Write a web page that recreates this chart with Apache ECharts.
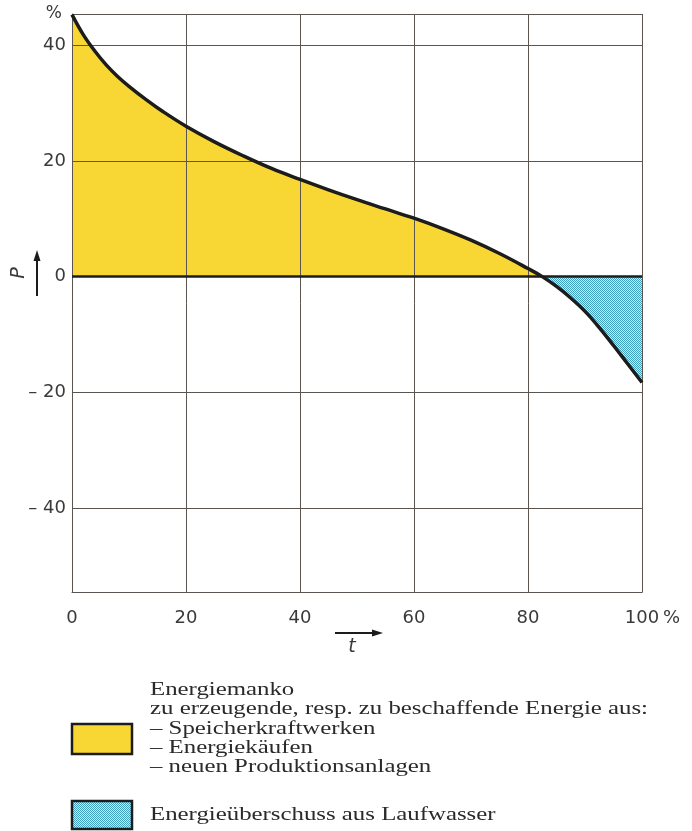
<!DOCTYPE html>
<html>
<head>
<meta charset="utf-8">
<script src="https://cdn.jsdelivr.net/npm/echarts@6/dist/echarts.min.js"></script>
<style>html,body{margin:0;padding:0;background:#fff}#c{width:692px;height:831px}</style>
</head>
<body>
<div id="c"></div>
<script>
// ---- data ----
const tValues = [0, 2, 4, 6, 8, 10, 13, 16, 20, 25, 30, 35, 40, 45, 50, 55, 60, 65, 70, 75, 80, 82.5, 85, 87.5, 90, 92.5, 95, 97.5, 100];
const pValues = [45.3, 41.8, 39.0, 36.6, 34.6, 32.9, 30.6, 28.5, 26.0, 23.3, 20.9, 18.7, 16.8, 15.0, 13.3, 11.7, 10.1, 8.3, 6.3, 4.0, 1.4, 0, -1.7, -3.7, -6.0, -8.8, -11.9, -15.1, -18.3];
const xTickLabels = [0, 20, 40, 60, 80, 100];
const yTickLabels = [-40, -20, 0, 20, 40];
const yMin = -54.6, yMax = 45.4;
const legendDeficitLines = [
  'Energiemanko',
  'zu erzeugende, resp. zu beschaffende Energie aus:',
  '– Speicherkraftwerken',
  '– Energiekäufen',
  '– neuen Produktionsanlagen'
];
const legendSurplus = 'Energieüberschuss aus Laufwasser';

// ---- build ----
const curve = tValues.map((t, i) => [t, pValues[i]]);
const positivePart = curve.filter(p => p[1] >= 0);
const negativePart = curve.filter(p => p[1] <= 0);

function hatch() {
  const c = document.createElement('canvas');
  c.width = 2; c.height = 2;
  const g = c.getContext('2d');
  g.fillStyle = '#cfe9f2'; g.fillRect(0, 0, 2, 2);
  g.fillStyle = '#3f9fbf'; g.fillRect(0, 0, 1, 1); g.fillRect(1, 1, 1, 1);
  return c;
}
const hatchImg = hatch();
const YELLOW = '#F8D735';
const INK = '#1c1c1c';
const GRIDC = '#5a5550';
const LABELC = '#3a3a3a';

// legend text horizontal stretch
const legendFont = "19px 'Liberation Serif'";
const mctx = document.createElement('canvas').getContext('2d');
mctx.font = legendFont;
const measured = mctx.measureText(legendDeficitLines[1]).width;
const stretch = 498 / measured;

const legendYs = [690, 709, 729, 748, 767];
const legendTexts = legendDeficitLines.map((s, i) => ({
  type: 'text', x: 150, y: legendYs[i], scaleX: stretch,
  style: { text: s, x: 0, y: 0, font: legendFont, fill: '#2a2a2a', verticalAlign: 'middle', align: 'left' }
}));
legendTexts.push({
  type: 'text', x: 150, y: 815, scaleX: stretch,
  style: { text: legendSurplus, x: 0, y: 0, font: legendFont, fill: '#2a2a2a', verticalAlign: 'middle', align: 'left' }
});

const chart = echarts.init(document.getElementById('c'), null, { renderer: 'canvas' });
chart.setOption({
  animation: false,
  backgroundColor: '#fff',
  grid: { left: 72, right: 50, top: 14, bottom: 238.5, containLabel: false },
  xAxis: {
    type: 'value', min: 0, max: 100, z: 3,
    axisLine: { show: true, onZero: false, lineStyle: { color: GRIDC, width: 1 } },
    axisTick: { show: false, customValues: xTickLabels },
    splitLine: { show: true, lineStyle: { color: GRIDC, width: 1 } },
    axisLabel: {
      customValues: xTickLabels, margin: 17,
      fontFamily: 'DejaVu Sans', fontSize: 18, color: LABELC
    }
  },
  yAxis: {
    type: 'value', min: yMin, max: yMax, z: 3,
    name: '%', nameLocation: 'end', nameGap: 0,
    nameTextStyle: { fontFamily: 'DejaVu Sans', fontSize: 17, color: LABELC, align: 'right', verticalAlign: 'middle', padding: [0, 10, 0, 0] },
    axisLine: { show: true, lineStyle: { color: GRIDC, width: 1 } },
    axisTick: { show: false, customValues: [yMin, -40, -20, 0, 20, 40, yMax] },
    splitLine: { show: true, lineStyle: { color: GRIDC, width: 1 } },
    axisLabel: {
      customValues: yTickLabels, margin: 6,
      fontFamily: 'DejaVu Sans', fontSize: 18, color: LABELC,
      formatter: v => v < 0 ? '– ' + Math.abs(v) : String(v)
    }
  },
  series: [
    {
      type: 'line', data: positivePart, z: 1, symbol: 'none', smooth: 0.4,
      lineStyle: { width: 0, opacity: 0 }, areaStyle: { color: YELLOW, opacity: 1 }, silent: true
    },
    {
      type: 'line', data: negativePart, z: 1, symbol: 'none', smooth: 0.4,
      lineStyle: { width: 0, opacity: 0 }, areaStyle: { color: { image: hatchImg, repeat: 'repeat' }, opacity: 1 }, silent: true
    },
    {
      type: 'line', data: curve, z: 5, symbol: 'none', smooth: 0.4,
      lineStyle: { width: 3.5, color: INK }, silent: true,
      markLine: {
        silent: true, symbol: ['none', 'none'], label: { show: false },
        lineStyle: { color: INK, width: 2.5, type: 'solid' },
        data: [{ yAxis: 0 }]
      }
    }
  ],
  graphic: [
    { type: 'text', x: 663, y: 618, style: { text: '%', font: "18px 'DejaVu Sans'", fill: LABELC, verticalAlign: 'middle', align: 'left' } },
    // P arrow
    { type: 'line', shape: { x1: 37, y1: 296, x2: 37, y2: 258 }, style: { stroke: INK, lineWidth: 2 } },
    { type: 'polygon', shape: { points: [[37, 250], [33.5, 261], [40.5, 261]] }, style: { fill: INK } },
    { type: 'text', x: 19, y: 273, rotation: Math.PI / 2, style: { text: 'P', font: "italic 19px 'DejaVu Sans'", fill: LABELC, align: 'center', verticalAlign: 'middle' } },
    // t arrow
    { type: 'line', shape: { x1: 335, y1: 633, x2: 375, y2: 633 }, style: { stroke: INK, lineWidth: 2 } },
    { type: 'polygon', shape: { points: [[383, 633], [372, 629.5], [372, 636.5]] }, style: { fill: INK } },
    { type: 'text', x: 352, y: 647, style: { text: 't', font: "italic 19px 'DejaVu Sans'", fill: LABELC, align: 'center', verticalAlign: 'middle' } },
    // legend boxes
    { type: 'rect', shape: { x: 72, y: 724, width: 60, height: 30 }, style: { fill: YELLOW, stroke: INK, lineWidth: 2.5 } },
    { type: 'rect', shape: { x: 72, y: 801, width: 60, height: 28 }, style: { fill: { image: hatchImg, repeat: 'repeat' }, stroke: INK, lineWidth: 2.5 } }
  ].concat(legendTexts)
});
</script>
</body>
</html>
